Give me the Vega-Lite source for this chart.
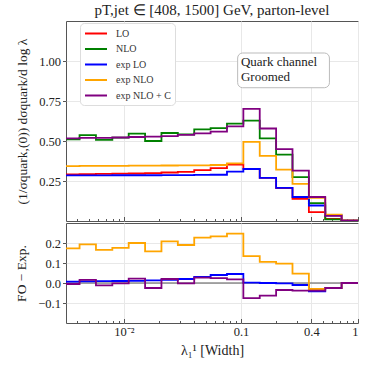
{
  "$schema": "https://vega.github.io/schema/vega-lite/v6.json",
  "padding": {"left": 14, "top": 2, "right": 6, "bottom": 4},
  "config": {
    "font": "Liberation Serif",
    "view": {"stroke": "#555555", "strokeWidth": 1},
    "axis": {
      "labelFont": "Liberation Serif", "titleFont": "Liberation Serif",
      "labelFontSize": 12.5, "titleFontSize": 13.5, "titleFontWeight": "normal",
      "labelColor": "#222222", "titleColor": "#222222", "labelOverlap": false, "labelBound": false,
      "gridColor": "#e8e8e8", "gridWidth": 1, "domain": false, "tickColor": "#555555"
    },
    "concat": {"spacing": 0},
    "title": {"font": "Liberation Serif", "fontSize": 15, "fontWeight": "normal", "color": "#222222"}
  },
  "resolve": {"scale": {"color": "independent"}},
  "datasets": {
    "h": [
      {"lam": 0.003028, "LO": 0.292, "NLO": 0.511, "expLO": 0.285, "expNLO": 0.343, "expNLOC": 0.517, "dLO": 0.007, "dNLO": 0.173, "dNLOC": -0.005},
      {"lam": 0.004178, "LO": 0.293, "NLO": 0.537, "expLO": 0.285, "expNLO": 0.344, "expNLOC": 0.519, "dLO": 0.008, "dNLO": 0.193, "dNLOC": 0.016},
      {"lam": 0.005768, "LO": 0.294, "NLO": 0.507, "expLO": 0.285, "expNLO": 0.344, "expNLOC": 0.519, "dLO": 0.009, "dNLO": 0.166, "dNLOC": -0.012},
      {"lam": 0.007961, "LO": 0.296, "NLO": 0.521, "expLO": 0.286, "expNLO": 0.345, "expNLOC": 0.522, "dLO": 0.010, "dNLO": 0.176, "dNLOC": -0.002},
      {"lam": 0.010984, "LO": 0.297, "NLO": 0.546, "expLO": 0.286, "expNLO": 0.346, "expNLOC": 0.525, "dLO": 0.011, "dNLO": 0.200, "dNLOC": 0.022},
      {"lam": 0.015163, "LO": 0.299, "NLO": 0.500, "expLO": 0.286, "expNLO": 0.346, "expNLOC": 0.527, "dLO": 0.013, "dNLO": 0.158, "dNLOC": -0.025},
      {"lam": 0.020929, "LO": 0.303, "NLO": 0.550, "expLO": 0.287, "expNLO": 0.347, "expNLOC": 0.531, "dLO": 0.016, "dNLO": 0.208, "dNLOC": 0.020},
      {"lam": 0.028886, "LO": 0.307, "NLO": 0.542, "expLO": 0.287, "expNLO": 0.348, "expNLOC": 0.538, "dLO": 0.020, "dNLO": 0.190, "dNLOC": -0.002},
      {"lam": 0.039870, "LO": 0.318, "NLO": 0.573, "expLO": 0.288, "expNLO": 0.348, "expNLOC": 0.548, "dLO": 0.030, "dNLO": 0.227, "dNLOC": 0.027},
      {"lam": 0.055029, "LO": 0.331, "NLO": 0.580, "expLO": 0.289, "expNLO": 0.350, "expNLOC": 0.558, "dLO": 0.040, "dNLO": 0.233, "dNLOC": 0.024},
      {"lam": 0.075952, "LO": 0.352, "NLO": 0.608, "expLO": 0.308, "expNLO": 0.360, "expNLOC": 0.592, "dLO": 0.045, "dNLO": 0.247, "dNLOC": 0.018},
      {"lam": 0.104830, "LO": 0.326, "NLO": 0.627, "expLO": 0.325, "expNLO": 0.494, "expNLOC": 0.701, "dLO": 0.002, "dNLO": 0.134, "dNLOC": -0.076},
      {"lam": 0.144690, "LO": 0.269, "NLO": 0.516, "expLO": 0.269, "expNLO": 0.407, "expNLOC": 0.578, "dLO": 0.000, "dNLO": 0.106, "dNLOC": -0.063},
      {"lam": 0.199710, "LO": 0.205, "NLO": 0.415, "expLO": 0.207, "expNLO": 0.321, "expNLOC": 0.449, "dLO": -0.002, "dNLO": 0.097, "dNLOC": -0.035},
      {"lam": 0.275620, "LO": 0.139, "NLO": 0.274, "expLO": 0.150, "expNLO": 0.232, "expNLOC": 0.315, "dLO": -0.010, "dNLO": 0.047, "dNLOC": -0.038},
      {"lam": 0.380420, "LO": 0.055, "NLO": 0.112, "expLO": 0.097, "expNLO": 0.145, "expNLOC": 0.150, "dLO": -0.042, "dNLO": -0.030, "dNLOC": -0.038},
      {"lam": 0.525070, "LO": 0.013, "NLO": 0.010, "expLO": 0.036, "expNLO": 0.040, "expNLOC": 0.032, "dLO": -0.025, "dNLO": -0.026, "dNLOC": -0.025},
      {"lam": 0.724690, "LO": 0.002, "NLO": 0.001, "expLO": 0.003, "expNLO": 0.003, "expNLOC": 0.002, "dLO": 0.000, "dNLO": 0.000, "dNLOC": 0.000},
      {"lam": 1.0, "LO": 0.002, "NLO": 0.001, "expLO": 0.003, "expNLO": 0.003, "expNLOC": 0.002, "dLO": 0.000, "dNLO": 0.000, "dNLOC": 0.000}
    ]
  },
  "vconcat": [
    {
      "width": 292,
      "height": 200,
      "title": {"text": "pT,jet ∈ [408, 1500] GeV, parton-level", "offset": 3},
      "resolve": {"axis": {"x": "independent"}},
      "layer": [
        {
          "data": {"name": "h"},
          "transform": [{"fold": ["LO", "NLO", "expLO", "expNLO", "expNLOC"], "as": ["series", "v"]}],
          "mark": {"type": "line", "interpolate": "step-after", "strokeWidth": 1.8, "clip": true},
          "encoding": {
            "x": {
              "field": "lam", "type": "quantitative",
              "scale": {"type": "log", "domain": [0.0032, 1], "nice": false},
              "axis": {"orient": "bottom", "values": [0.01, 0.1, 0.4, 1], "tickCount": 20, "labels": false, "title": null, "tickSize": -4.5, "grid": true}
            },
            "y": {
              "field": "v", "type": "quantitative",
              "scale": {"domain": [0, 1.25], "nice": false, "zero": false},
              "axis": {"values": [0.25, 0.5, 0.75, 1.0], "tickCount": 20, "format": ".2f", "tickSize": 3.5, "labelPadding": 2, "titlePadding": 9, "grid": true,
                       "title": "(1/σquark,(0)) dσquark/d log λ"}
            },
            "color": {
              "field": "series", "type": "nominal",
              "scale": {"domain": ["LO", "NLO", "expLO", "expNLO", "expNLOC"], "range": ["#ff0000", "#008000", "#0000ff", "#ffa500", "#800080"]},
              "sort": ["LO", "NLO", "expLO", "expNLO", "expNLOC"],
              "legend": {
                "orient": "none", "legendX": 14, "legendY": 2, "title": null,
                "symbolType": "M-1,0H3", "symbolSize": 121, "symbolStrokeWidth": 2,
                "labelFont": "Liberation Serif", "labelFontSize": 10, "labelColor": "#333333", "labelOffset": 19,
                "rowPadding": 3.5, "fillColor": "white", "strokeColor": "#dddddd", "cornerRadius": 4, "padding": 4,
                "labelExpr": "{'LO': 'LO', 'NLO': 'NLO', 'expLO': 'exp  LO', 'expNLO': 'exp NLO', 'expNLOC': 'exp NLO + C'}[datum.label]"
              }
            }
          }
        },
        {
          "data": {"values": [{}]},
          "mark": {"type": "rect", "fill": "white", "stroke": "#bbbbbb", "strokeWidth": 1, "cornerRadius": 5},
          "encoding": {
            "x": {"datum": 0.0937, "type": "quantitative",
                  "axis": {"orient": "bottom", "values": [0.004, 0.005, 0.006, 0.007, 0.008, 0.009, 0.02, 0.03, 0.04, 0.05, 0.06, 0.07, 0.08, 0.09, 0.2, 0.3, 0.5, 0.6, 0.7, 0.8, 0.9], "tickCount": 40, "labels": false, "title": null, "tickSize": -2.5, "grid": false}},
            "x2": {"datum": 0.57},
            "y": {"datum": 1.05, "type": "quantitative"},
            "y2": {"datum": 0.833}
          }
        },
        {
          "data": {"values": [{}]},
          "mark": {"type": "text", "align": "left", "baseline": "top", "font": "Liberation Serif", "fontSize": 13, "lineHeight": 14.5, "color": "#222222"},
          "encoding": {
            "x": {"datum": 0.1, "type": "quantitative", "axis": null},
            "y": {"datum": 1.03, "type": "quantitative"},
            "text": {"value": ["Quark channel", "Groomed"]}
          }
        }
      ]
    },
    {
      "width": 292,
      "height": 100,
      "resolve": {"axis": {"x": "independent"}},
      "layer": [
        {
          "data": {"values": [{}]},
          "mark": {"type": "rule", "color": "#555555", "strokeWidth": 1},
          "encoding": {
            "x": {"datum": 0.0032, "type": "quantitative",
                  "axis": {"orient": "bottom", "values": [0.004, 0.005, 0.006, 0.007, 0.008, 0.009, 0.02, 0.03, 0.04, 0.05, 0.06, 0.07, 0.08, 0.09, 0.2, 0.3, 0.5, 0.6, 0.7, 0.8, 0.9], "tickCount": 40, "labels": false, "title": null, "tickSize": -2.5, "grid": false}},
            "x2": {"datum": 1},
            "y": {"datum": 0, "type": "quantitative"}
          }
        },
        {
          "data": {"name": "h"},
          "transform": [{"fold": ["dLO", "dNLO", "dNLOC"], "as": ["series", "d"]}],
          "mark": {"type": "line", "interpolate": "step-after", "strokeWidth": 1.8, "clip": true},
          "encoding": {
            "x": {
              "field": "lam", "type": "quantitative",
              "scale": {"type": "log", "domain": [0.0032, 1], "nice": false},
              "axis": {"orient": "bottom", "values": [0.01, 0.1, 0.4, 1], "tickCount": 20, "format": "~g", "labelExpr": "datum.value < 0.05 ? '10⁻²' : datum.label", "tickSize": -4.5, "labelPadding": 7, "grid": true, "title": "λ₁¹ [Width]", "titleFontSize": 14, "titlePadding": 5}
            },
            "y": {
              "field": "d", "type": "quantitative",
              "scale": {"domain": [-0.2, 0.3], "nice": false, "zero": false},
              "axis": {"values": [-0.1, 0, 0.1, 0.2], "tickCount": 20, "format": ".1f", "labelExpr": "replace(datum.label, '-', '−')", "tickSize": 3.5, "labelPadding": 2, "titlePadding": 9, "grid": true, "title": "FO − Exp."}
            },
            "color": {
              "field": "series", "type": "nominal",
              "scale": {"domain": ["dLO", "dNLO", "dNLOC"], "range": ["#0000ff", "#ffa500", "#800080"]},
              "legend": null
            }
          }
        }
      ]
    }
  ]
}
